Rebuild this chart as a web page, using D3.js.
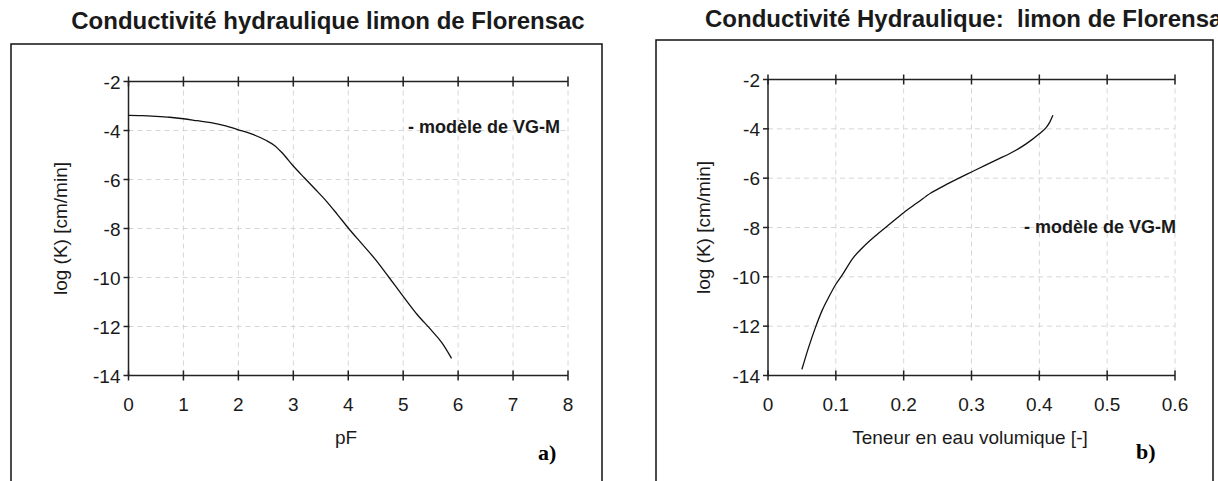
<!DOCTYPE html>
<html>
<head>
<meta charset="utf-8">
<script src="https://cdn.jsdelivr.net/npm/d3@7"></script>
<style>
  html, body { margin: 0; padding: 0; background: #fff; overflow: hidden; }
  svg { display: block; font-family: "Liberation Sans", Arial, sans-serif; }
</style>
</head>
<body>
<svg id="fig" width="1218" height="481"></svg>
<script>
// Panel a: hydraulic conductivity versus pF (van Genuchten–Mualem model)
const pF = [0, 0.25, 0.5, 0.75, 1, 1.25, 1.5, 1.75, 2, 2.25, 2.5, 2.65, 2.8, 3, 3.2, 3.4, 3.6, 3.8, 4, 4.25, 4.5, 4.75, 5, 5.25, 5.5, 5.7, 5.88];
const logKpF = [-3.38, -3.39, -3.42, -3.46, -3.52, -3.6, -3.68, -3.8, -3.97, -4.15, -4.4, -4.6, -4.92, -5.45, -5.93, -6.4, -6.88, -7.42, -7.98, -8.63, -9.28, -10.02, -10.77, -11.5, -12.12, -12.65, -13.3];

// Panel b: hydraulic conductivity versus volumetric water content
const theta = [0.05, 0.06, 0.07, 0.08, 0.09, 0.1, 0.11, 0.125, 0.14, 0.16, 0.18, 0.2, 0.22, 0.24, 0.26, 0.28, 0.3, 0.32, 0.34, 0.36, 0.38, 0.4, 0.41, 0.415, 0.42];
const logKtheta = [-13.75, -12.85, -12.05, -11.35, -10.8, -10.3, -9.9, -9.25, -8.8, -8.3, -7.85, -7.4, -7.0, -6.6, -6.3, -6.02, -5.75, -5.48, -5.22, -4.95, -4.62, -4.2, -3.95, -3.75, -3.45];

// Tick values
const yTicks = [-2, -4, -6, -8, -10, -12, -14];
const xTicksA = [0, 1, 2, 3, 4, 5, 6, 7, 8];
const xTicksB = [0, 0.1, 0.2, 0.3, 0.4, 0.5, 0.6];

const svg = d3.select("#fig");
const ink = "#1a1a1a";

function panel(cfg) {
  const g = svg.append("g");
  // outer frame (runs past the bottom edge)
  g.append("path")
    .attr("d", `M${cfg.frame[0]},${cfg.frame[2] + 500}V${cfg.frame[2]}H${cfg.frame[1]}V${cfg.frame[2] + 500}`)
    .attr("fill", "none").attr("stroke", "#111").attr("stroke-width", 1.5);

  // title
  g.append("text").attr("x", cfg.titleX).attr("y", cfg.titleY)
    .attr("text-anchor", cfg.titleAnchor)
    .style("white-space", "pre")
    .attr("font-size", 24).attr("font-weight", "bold").attr("fill", ink)
    .text(cfg.title);

  const x = d3.scaleLinear().domain(cfg.xDomain).range(cfg.xRange);
  const y = d3.scaleLinear().domain([-14, -2]).range(cfg.yRange);

  // dashed grid
  const grid = g.append("g").attr("stroke", "#d6d6d6").attr("stroke-dasharray", "5,4").attr("stroke-width", 1);
  grid.selectAll("line.v").data(cfg.xTicks.slice(1)).join("line")
    .attr("x1", d => x(d)).attr("x2", d => x(d))
    .attr("y1", y(-2)).attr("y2", y(-14));
  grid.selectAll("line.h").data(yTicks.slice(0, -1)).join("line")
    .attr("x1", x(cfg.xDomain[0])).attr("x2", x(cfg.xDomain[1]))
    .attr("y1", d => y(d)).attr("y2", d => y(d));

  // axes: left, bottom and top lines with crossing ticks
  const ax = g.append("g").attr("stroke", "#222").attr("stroke-width", 1.5).attr("fill", "none");
  ax.append("line").attr("x1", x(cfg.xDomain[0])).attr("x2", x(cfg.xDomain[0])).attr("y1", y(-2)).attr("y2", y(-14));
  ax.append("line").attr("x1", x(cfg.xDomain[0])).attr("x2", x(cfg.xDomain[1])).attr("y1", y(-14)).attr("y2", y(-14));
  ax.append("line").attr("x1", x(cfg.xDomain[0])).attr("x2", x(cfg.xDomain[1])).attr("y1", y(-2)).attr("y2", y(-2));
  ax.selectAll("line.yt").data(yTicks).join("line")
    .attr("x1", x(cfg.xDomain[0]) - 5).attr("x2", x(cfg.xDomain[0]) + 1)
    .attr("y1", d => y(d)).attr("y2", d => y(d));
  [-14, -2].forEach(v => {
    ax.selectAll(null).data(cfg.xTicks).join("line")
      .attr("x1", d => x(d)).attr("x2", d => x(d))
      .attr("y1", y(v) - 5).attr("y2", y(v) + 5);
  });

  // tick labels
  g.selectAll("text.yl").data(yTicks).join("text")
    .attr("x", x(cfg.xDomain[0]) - 8).attr("y", d => y(d) + 7)
    .attr("text-anchor", "end").attr("font-size", 19).attr("fill", ink)
    .text(d => d);
  g.selectAll("text.xl").data(cfg.xTicks).join("text")
    .attr("x", d => x(d)).attr("y", y(-14) + 35)
    .attr("text-anchor", "middle").attr("font-size", 19).attr("fill", ink)
    .text(d => d);

  // axis titles
  g.append("text").attr("transform", `translate(${cfg.yLabelX},${(y(-2) + y(-14)) / 2}) rotate(-90)`)
    .attr("text-anchor", "middle").attr("font-size", 19).attr("fill", ink)
    .text("log (K) [cm/min]");
  g.append("text").attr("x", cfg.xLabelX).attr("y", y(-14) + 68)
    .attr("text-anchor", "middle").attr("font-size", 19).attr("fill", ink)
    .text(cfg.xLabel);

  // curve
  const line = d3.line().curve(d3.curveMonotoneX).x(d => x(d[0])).y(d => y(d[1]));
  g.append("path").datum(cfg.xs.map((v, i) => [v, cfg.ys[i]]))
    .attr("d", line).attr("fill", "none").attr("stroke", "#111").attr("stroke-width", 1.3);

  // legend
  g.append("text").attr("x", cfg.legend[0]).attr("y", cfg.legend[1])
    .attr("font-size", 18).attr("font-weight", "bold").attr("fill", ink)
    .text("- modèle de VG-M");

  // panel tag
  g.append("text").attr("x", cfg.tag[0]).attr("y", cfg.tag[1])
    .attr("font-family", "'Liberation Serif', 'Times New Roman', serif")
    .attr("font-size", 22).attr("font-weight", "bold").attr("fill", "#000")
    .text(cfg.tagText);
}

panel({
  frame: [11, 602, 44],
  title: "Conductivité hydraulique limon de Florensac",
  titleX: 328, titleY: 29, titleAnchor: "middle",
  xDomain: [0, 8], xRange: [128.5, 568],
  yRange: [375.5, 81.5],
  xTicks: xTicksA,
  xs: pF, ys: logKpF,
  yLabelX: 67, xLabelX: 346, xLabel: "pF",
  legend: [408, 133],
  tag: [538, 460], tagText: "a)"
});

panel({
  frame: [656, 1213, 40],
  title: "Conductivité Hydraulique:  limon de Florensac",
  titleX: 705, titleY: 27, titleAnchor: "start",
  xDomain: [0, 0.6], xRange: [768, 1175],
  yRange: [375.5, 79.5],
  xTicks: xTicksB,
  xs: theta, ys: logKtheta,
  yLabelX: 710, xLabelX: 970, xLabel: "Teneur en eau volumique [-]",
  legend: [1024, 233],
  tag: [1136, 459], tagText: "b)"
});
</script>
</body>
</html>
